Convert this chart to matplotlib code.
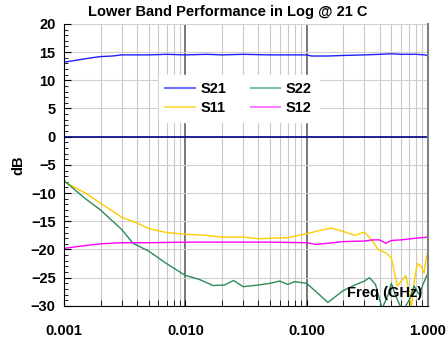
import matplotlib.pyplot as plt
from matplotlib.lines import Line2D
from matplotlib.ticker import FixedLocator, LogLocator, NullFormatter

# frequency points (GHz) and S-parameters (dB)
f_s21 = [0.001, 0.0013, 0.0017, 0.002, 0.0025, 0.003, 0.005, 0.007, 0.01, 0.015,
         0.02, 0.03, 0.05, 0.07, 0.1, 0.11, 0.15, 0.2, 0.3, 0.4, 0.5, 0.6, 0.8, 0.95, 1.0]
s21 = [13.2, 13.6, 14.0, 14.2, 14.3, 14.5, 14.5, 14.6, 14.5, 14.6,
       14.5, 14.6, 14.5, 14.5, 14.5, 14.3, 14.3, 14.4, 14.5, 14.6, 14.7, 14.6, 14.6, 14.5, 14.3]

f_s11 = [0.001, 0.0015, 0.002, 0.003, 0.004, 0.005, 0.007, 0.01, 0.015, 0.02, 0.03,
         0.04, 0.05, 0.07, 0.1, 0.13, 0.16, 0.2, 0.25, 0.3, 0.35, 0.39, 0.45, 0.5,
         0.56, 0.61, 0.66, 0.7, 0.73, 0.78, 0.82, 0.88, 0.93, 0.97, 1.0]
s11 = [-8.0, -10.0, -11.8, -14.3, -15.3, -16.3, -17.0, -17.3, -17.5, -17.8, -17.8,
       -18.1, -18.0, -17.9, -17.2, -16.6, -16.2, -16.8, -17.5, -16.9, -18.5, -20.0, -20.6, -21.5,
       -26.5, -25.5, -24.6, -27.5, -30.5, -25.0, -22.5, -23.0, -24.2, -21.5, -20.5]

f_s22 = [0.001, 0.0015, 0.002, 0.003, 0.0037, 0.005, 0.007, 0.01, 0.013, 0.017, 0.021,
         0.025, 0.03, 0.04, 0.05, 0.06, 0.07, 0.08, 0.1, 0.12, 0.15, 0.2, 0.25, 0.3,
         0.33, 0.37, 0.42, 0.47, 0.5, 0.55, 0.62, 0.7, 0.77, 0.85, 0.92, 1.0]
s22 = [-7.8, -11.0, -13.0, -16.5, -18.9, -20.3, -22.5, -24.6, -25.3, -26.4, -26.3,
       -25.5, -26.6, -26.3, -26.0, -25.6, -26.2, -25.7, -26.0, -27.5, -29.4, -27.3, -26.3, -25.6,
       -25.0, -26.2, -30.5, -28.0, -26.0, -28.5, -31.0, -29.0, -26.5, -28.0, -26.0, -24.2]

f_s12 = [0.001, 0.0015, 0.002, 0.003, 0.005, 0.01, 0.02, 0.05, 0.1, 0.12, 0.15,
         0.2, 0.3, 0.35, 0.4, 0.45, 0.5, 0.6, 0.8, 1.0]
s12 = [-19.8, -19.3, -19.0, -18.8, -18.8, -18.7, -18.7, -18.7, -18.8, -19.1, -18.9,
       -18.6, -18.5, -18.3, -18.3, -18.9, -18.4, -18.3, -18.0, -17.8]

decades = [0.001, 0.01, 0.1, 1.0]
decade_labels = ['0.001', '0.010', '0.100', '1.000']

fig = plt.figure(figsize=(4.48, 3.41), dpi=100)
ax = fig.add_axes([0.143, 0.103, 0.812, 0.827])

fs = 10.5
bold = {'fontweight': 'bold', 'fontfamily': 'Liberation Sans'}

ax.set_xscale('log')
ax.set_xlim(0.001, 1.0)
ax.set_ylim(-30, 20)

# grid
ax.xaxis.set_minor_locator(LogLocator(base=10, subs=range(2, 10)))
ax.xaxis.set_minor_formatter(NullFormatter())
ax.xaxis.set_major_locator(FixedLocator(decades))
ax.set_xticklabels(decade_labels, fontsize=fs, **bold)
ax.grid(which='minor', axis='x', color='#c8c8c8', lw=0.8)
ax.grid(which='major', axis='x', color='#606060', lw=1.2)
ax.set_yticks(range(-30, 21, 5))
ax.set_yticks(range(-30, 21, 1), minor=True)
ax.grid(which='major', axis='y', color='#d0d0d0', lw=0.8)
ax.set_axisbelow(True)
ax.tick_params(axis='y', which='major', direction='in', length=5, labelsize=fs, pad=6)
ax.tick_params(axis='y', which='minor', direction='in', length=3)
ax.tick_params(axis='x', which='both', direction='in', length=4, pad=13)
for lab in ax.get_yticklabels():
    lab.set_fontweight('bold')
    lab.set_fontfamily('Liberation Sans')

ax.spines['top'].set_visible(False)
ax.spines['right'].set_color('#808080')
ax.spines['right'].set_linewidth(1.5)

ax.axhline(0, color='#000080', lw=1.2)
ax.plot(f_s21, s21, color='#1f1fff', lw=1)
ax.plot(f_s11, s11, color='#ffcc00', lw=1)
ax.plot(f_s22, s22, color='#2e8b57', lw=1)
ax.plot(f_s12, s12, color='#ff00ff', lw=1)

handles = [Line2D([], [], color='#7070ff', lw=1.5),
           Line2D([], [], color='#ffdf60', lw=1.5),
           Line2D([], [], color='#80c0a0', lw=1.5),
           Line2D([], [], color='#ff80ff', lw=1.5)]
leg = ax.legend(handles, ['S21', 'S11', 'S22', 'S12'], ncol=2, frameon=True,
                loc='center', bbox_to_anchor=(0.48, 0.735), fancybox=False,
                handlelength=2.0, handletextpad=0.4, columnspacing=1.7,
                labelspacing=0.35, borderpad=0.45,
                prop={'weight': 'bold', 'size': fs, 'family': 'Liberation Sans'})
leg.get_frame().set_edgecolor('white')
leg.get_frame().set_alpha(1)

ax.set_title('Lower Band Performance in Log @ 21 C', fontsize=fs, pad=6, x=0.449, **bold)
ax.set_ylabel('dB', fontsize=fs, labelpad=4, **bold)
ax.text(0.985, 0.045, 'Freq (GHz)', transform=ax.transAxes, ha='right', va='center',
        fontsize=fs, **bold)

fig.savefig('out.png', dpi=100)
